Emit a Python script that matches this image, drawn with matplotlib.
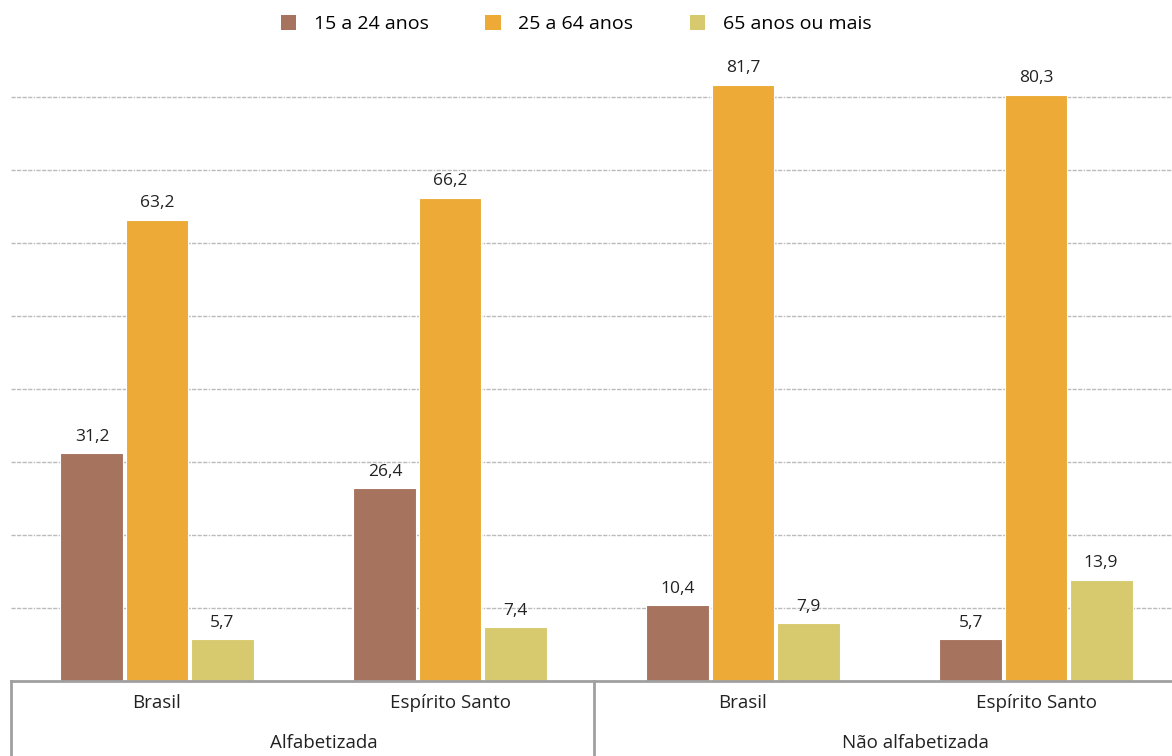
import numpy as np
import matplotlib
matplotlib.use("Agg")
import matplotlib.pyplot as plt
from matplotlib.patches import Patch

plt.rcParams['font.family'] = ['Open Sans', 'DejaVu Sans']

# data
groups = ["Alfabetizada", "Não alfabetizada"]
places = ["Brasil", "Espírito Santo", "Brasil", "Espírito Santo"]
series = ["15 a 24 anos", "25 a 64 anos", "65 anos ou mais"]
v_15_24 = [31.2, 26.4, 10.4, 5.7]
v_25_64 = [63.2, 66.2, 81.7, 80.3]
v_65 = [5.7, 7.4, 7.9, 13.9]
colors = ["#A6735F", "#EDAA37", "#D7CA6E"]

fig = plt.figure(figsize=(11.72, 7.56), dpi=100)
ax = fig.add_axes([10.5 / 1172, 75 / 756, 1172 / 1172, (681 - 24) / 756])

x = np.arange(len(places))
w = 0.215
off = 0.222
for i, vals in enumerate([v_15_24, v_25_64, v_65]):
    bars = ax.bar(x + (i - 1) * off, vals, w, color=colors[i],
                  edgecolor="white", linewidth=0.8, zorder=3)
    for b, v in zip(bars, vals):
        ax.annotate(f"{v:.1f}".replace(".", ","),
                    (b.get_x() + b.get_width() / 2, v),
                    xytext=(0, 6), textcoords="offset points",
                    ha="center", va="bottom", fontsize=12.5, color="#222222")

ax.set_xlim(-0.5, 3.5)
ax.set_ylim(0, 90)
ax.set_yticks(np.arange(10, 90, 10))
ax.yaxis.grid(True, color="#BBBBBB", linewidth=1.0,
              linestyle=(0, (3, 1, 3, 1, 3, 1, 3, 1, 1, 1)))
ax.set_axisbelow(True)
ax.tick_params(axis="both", length=0, labelleft=False, labelbottom=False)
for s in ax.spines.values():
    s.set_visible(False)

# category axis box
trans = ax.get_xaxis_transform()
lc = "#A0A0A0"
ax.plot([-0.5, 3.5], [0, 0], color=lc, lw=2, transform=trans, clip_on=False, zorder=4)
for xv in [-0.5, 1.49]:
    ax.plot([xv, xv], [0, -0.2], color=lc, lw=2, transform=trans, clip_on=False)

for xi, p in zip(x, places):
    ax.annotate(p, (xi, 0), xycoords=trans, xytext=(0, -16), textcoords="offset points",
                ha="center", va="center", fontsize=13.5, color="#222222")
for gx, g in zip([0.57, 2.59], groups):
    ax.annotate(g, (gx, 0), xycoords=trans, xytext=(0, -45), textcoords="offset points",
                ha="center", va="center", fontsize=13.5, color="#222222")

handles = [Patch(facecolor=c, edgecolor="none") for c in colors]
fig.legend(handles, series, loc="center", bbox_to_anchor=(576 / 1172, 1 - 24 / 756),
           ncol=3, frameon=False, fontsize=14, handlelength=0.8, handleheight=0.8,
           columnspacing=2.9, handletextpad=0.9)

fig.savefig("out.png", dpi=100)
